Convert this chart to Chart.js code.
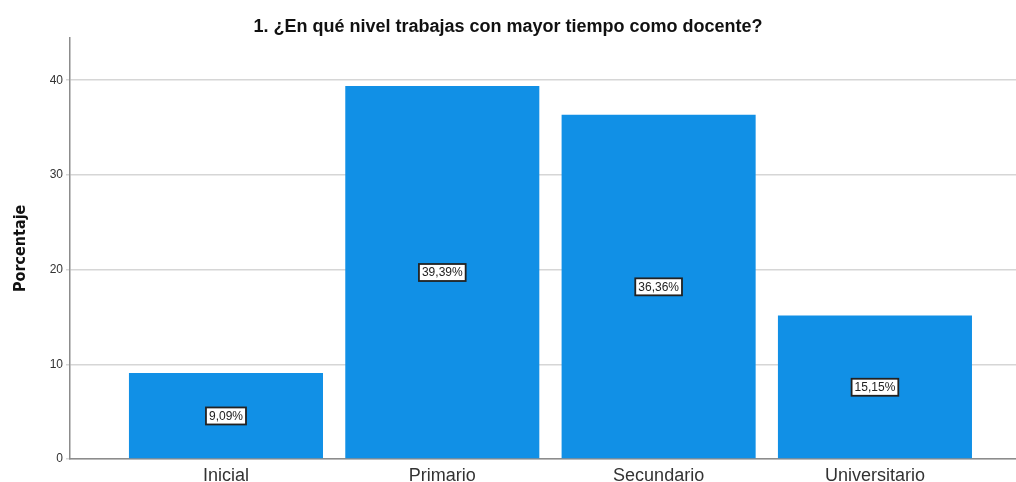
<!DOCTYPE html>
<html>
<head>
<meta charset="utf-8">
<script src="https://cdn.jsdelivr.net/npm/chart.js@4/dist/chart.umd.min.js"></script>
<style>
  html, body { margin: 0; padding: 0; background: #fff; }
  #wrap { width: 1016px; height: 482px; }
</style>
</head>
<body>
<div id="wrap"><canvas id="chart" width="1016" height="482"></canvas></div>
<script>
// Values
const categories = ['Inicial', 'Primario', 'Secundario', 'Universitario'];
const percentages = [9.09, 39.39, 36.36, 15.15];
const yTicks = [0, 10, 20, 30, 40];

const barColor = 'rgb(17, 144, 230)';

/**
 * White boxed value label in the middle of each bar
 */
const barLabels = {
    id: 'barLabels',
    afterDatasetsDraw(chart) {
        const ctx = chart.ctx;
        const yScale = chart.scales.y;
        const meta = chart.getDatasetMeta(0);
        ctx.save();
        ctx.font = '12px "Liberation Sans", Arial, sans-serif';
        ctx.textAlign = 'center';
        ctx.textBaseline = 'middle';
        meta.data.forEach((bar, i) => {
            const v = percentages[i];
            const text = v.toFixed(2).replace('.', ',') + '%';
            const x = bar.x;
            const y = yScale.getPixelForValue(v / 2);
            const w = ctx.measureText(text).width + 6;
            const h = 17;
            ctx.fillStyle = '#fff';
            ctx.fillRect(x - w / 2, y - h / 2, w, h);
            ctx.lineWidth = 1.8;
            ctx.strokeStyle = '#222';
            ctx.strokeRect(x - w / 2, y - h / 2, w, h);
            ctx.fillStyle = '#222';
            ctx.fillText(text, x, y + 0.5);
        });
        ctx.restore();
    }
};

const ctx = document.getElementById('chart').getContext('2d');

new Chart(ctx, {
    type: 'bar',
    data: {
        datasets: [{
            data: percentages.map((v, i) => ({ x: i + 1, y: v })),
            backgroundColor: barColor,
            borderWidth: 0,
            categoryPercentage: 1,
            barPercentage: 0.897
        }]
    },
    options: {
        responsive: false,
        animation: false,
        layout: { padding: { left: 0, right: 0, top: 0, bottom: 0 } },
        plugins: {
            legend: { display: false },
            tooltip: { enabled: false },
            title: {
                display: true,
                text: '1. ¿En qué nivel trabajas con mayor tiempo como docente?',
                color: '#111',
                font: { family: '"Liberation Sans", Arial, sans-serif', size: 18, weight: 'bold' },
                padding: { top: 16, bottom: 0 }
            }
        },
        scales: {
            x: {
                type: 'linear',
                offset: false,
                min: 0.279,
                max: 4.652,
                afterBuildTicks(scale) {
                    scale.ticks = categories.map((c, i) => ({ value: i + 1 }));
                },
                afterFit(scale) { scale.height = 23; },
                grid: { display: false, drawTicks: false },
                border: { display: true, color: '#8c8c8c', width: 1.5 },
                ticks: {
                    padding: 6,
                    color: '#333',
                    font: { family: '"Liberation Sans", Arial, sans-serif', size: 18 },
                    callback: (v) => categories[v - 1] || ''
                }
            },
            y: {
                min: 0,
                max: 44.5,
                afterBuildTicks(scale) {
                    scale.ticks = yTicks.map(v => ({ value: v }));
                },
                afterFit(scale) { scale.width = 70; },
                grid: { color: '#d6d6d6', lineWidth: 1.5, tickLength: 4 },
                border: { display: true, color: '#8c8c8c', width: 1.5 },
                ticks: {
                    padding: 3,
                    color: '#333',
                    font: { family: '"Liberation Sans", Arial, sans-serif', size: 12 }
                },
                title: {
                    display: true,
                    text: 'Porcentaje',
                    color: '#111',
                    padding: { top: 11, bottom: 0 },
                    font: { family: '"Liberation Sans Narrow", "DejaVu Sans Condensed", Arial, sans-serif', size: 16, weight: 'bold' }
                }
            }
        }
    },
    plugins: [barLabels]
});
</script>
</body>
</html>
